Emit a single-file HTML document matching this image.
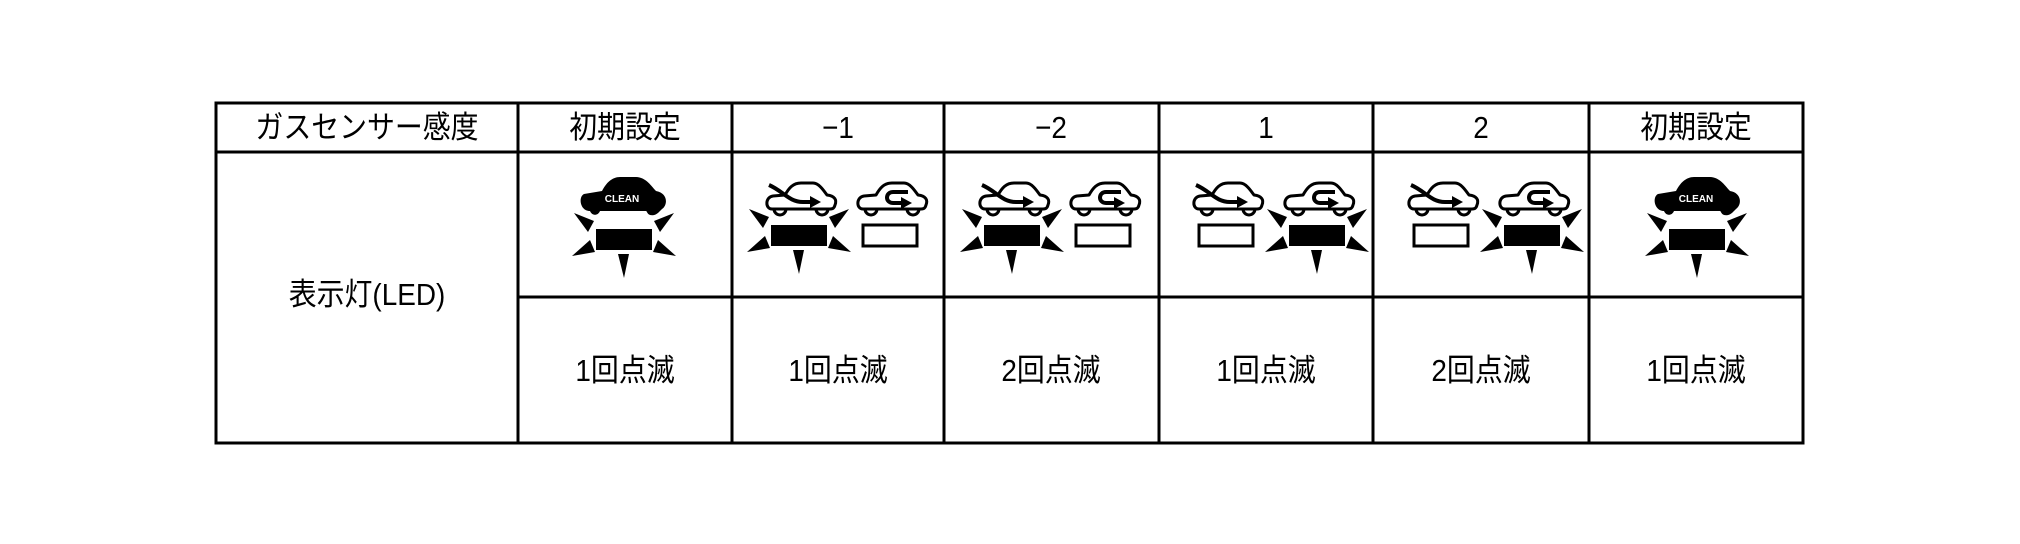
<!DOCTYPE html>
<html><head><meta charset="utf-8"><style>
html,body{margin:0;padding:0;background:#fff;}
svg{display:block;}
text{font-family:"Liberation Sans","Noto Sans CJK JP",sans-serif;}
</style></head><body>
<svg width="2020" height="544" viewBox="0 0 2020 544" xmlns="http://www.w3.org/2000/svg">
<defs>
  <g id="rays">
    <polygon points="-50,-26 -30,-18 -36,-7"/>
    <polygon points="50,-26 30,-18 36,-7"/>
    <polygon points="-52,17 -34,1 -29,13"/>
    <polygon points="52,17 34,1 29,13"/>
    <polygon points="-6,15 5,15 0,39"/>
  </g>
  <g id="lit"><rect x="-28" y="-10" width="56" height="21" fill="#000"/><use href="#rays"/></g>
  <g id="unlit"><rect x="-27" y="-10" width="54" height="21" fill="#fff" stroke="#000" stroke-width="3"/></g>
  <g id="carbody">
    <path d="M9,26 C2,26 2,14 10,13 L22,12 C26,5 30,0 38,0 L50,0 C56,0 61,8 64,12 C72,13 74,17 72,22 C71,26 69,26 66,26 Z" fill="#fff" stroke="#000" stroke-width="3" stroke-linejoin="round"/>
    <path d="M11,26 A6,6 0 0 0 23,26" fill="none" stroke="#000" stroke-width="3"/>
    <path d="M53,26 A6,6 0 0 0 65,26" fill="none" stroke="#000" stroke-width="3"/>
  </g>
  <g id="carwind">
    <use href="#carbody"/>
    <path d="M6,2 C20,8 26,19 40,19 L49,19" fill="none" stroke="#000" stroke-width="4"/>
    <polygon points="47,13 58,19 47,25"/>
  </g>
  <g id="carrec">
    <use href="#carbody"/>
    <path d="M54,9 L39,9 C31,9 31,20 39,20 L49,20" fill="none" stroke="#000" stroke-width="4"/>
    <polygon points="47,14 58,20 47,26"/>
  </g>
  <g id="clean">
    <path d="M14,36 C4,36 2,22 8,19 L26,16 C30,8 36,2 44,2 L60,2 C70,2 76,12 80,16 C92,18 92,30 86,34 C82,38 80,41 74,40 C71,39 71,36 70,36 L24,36 C22,41 16,41 14,36 Z" fill="#000"/>
    <text x="46" y="27" font-size="10" font-weight="bold" fill="#fff" text-anchor="middle" font-family="Liberation Sans,sans-serif">CLEAN</text>
  </g>
</defs>

<g stroke="#000" stroke-width="3" fill="none">
  <rect x="216" y="103" width="1587" height="340"/>
  <line x1="216" y1="152" x2="1803" y2="152"/>
  <line x1="518" y1="297" x2="1803" y2="297"/>
  <line x1="518" y1="103" x2="518" y2="443"/>
  <line x1="732" y1="103" x2="732" y2="443"/>
  <line x1="944" y1="103" x2="944" y2="443"/>
  <line x1="1159" y1="103" x2="1159" y2="443"/>
  <line x1="1373" y1="103" x2="1373" y2="443"/>
  <line x1="1589" y1="103" x2="1589" y2="443"/>
</g>

<g font-size="31" text-anchor="middle" fill="#000">
  <text transform="translate(367,138) scale(0.9,1)">ガスセンサー感度</text>
  <text transform="translate(625,138) scale(0.9,1)">初期設定</text>
  <text transform="translate(838,138) scale(0.9,1)">−1</text>
  <text transform="translate(1051,138) scale(0.9,1)">−2</text>
  <text transform="translate(1266,138) scale(0.9,1)">1</text>
  <text transform="translate(1481,138) scale(0.9,1)">2</text>
  <text transform="translate(1696,138) scale(0.9,1)">初期設定</text>
  <text transform="translate(367,305) scale(0.9,1)">表示灯(LED)</text>
  <text transform="translate(625,381) scale(0.9,1)">1回点滅</text>
  <text transform="translate(838,381) scale(0.9,1)">1回点滅</text>
  <text transform="translate(1051,381) scale(0.9,1)">2回点滅</text>
  <text transform="translate(1266,381) scale(0.9,1)">1回点滅</text>
  <text transform="translate(1481,381) scale(0.9,1)">2回点滅</text>
  <text transform="translate(1696,381) scale(0.9,1)">1回点滅</text>
</g>

<use href="#clean" x="576" y="175"/>
<use href="#lit" x="624" y="239"/>
<use href="#clean" x="1650" y="175"/>
<use href="#lit" x="1697" y="239"/>

<use href="#carwind" x="763" y="183"/>
<use href="#lit" x="799" y="235"/>
<use href="#carrec" x="854" y="183"/>
<use href="#unlit" x="890" y="235"/>

<use href="#carwind" x="976" y="183"/>
<use href="#lit" x="1012" y="235"/>
<use href="#carrec" x="1067" y="183"/>
<use href="#unlit" x="1103" y="235"/>

<use href="#carwind" x="1190" y="183"/>
<use href="#unlit" x="1226" y="235"/>
<use href="#carrec" x="1281" y="183"/>
<use href="#lit" x="1317" y="235"/>

<use href="#carwind" x="1405" y="183"/>
<use href="#unlit" x="1441" y="235"/>
<use href="#carrec" x="1496" y="183"/>
<use href="#lit" x="1532" y="235"/>
</svg>
</body></html>
